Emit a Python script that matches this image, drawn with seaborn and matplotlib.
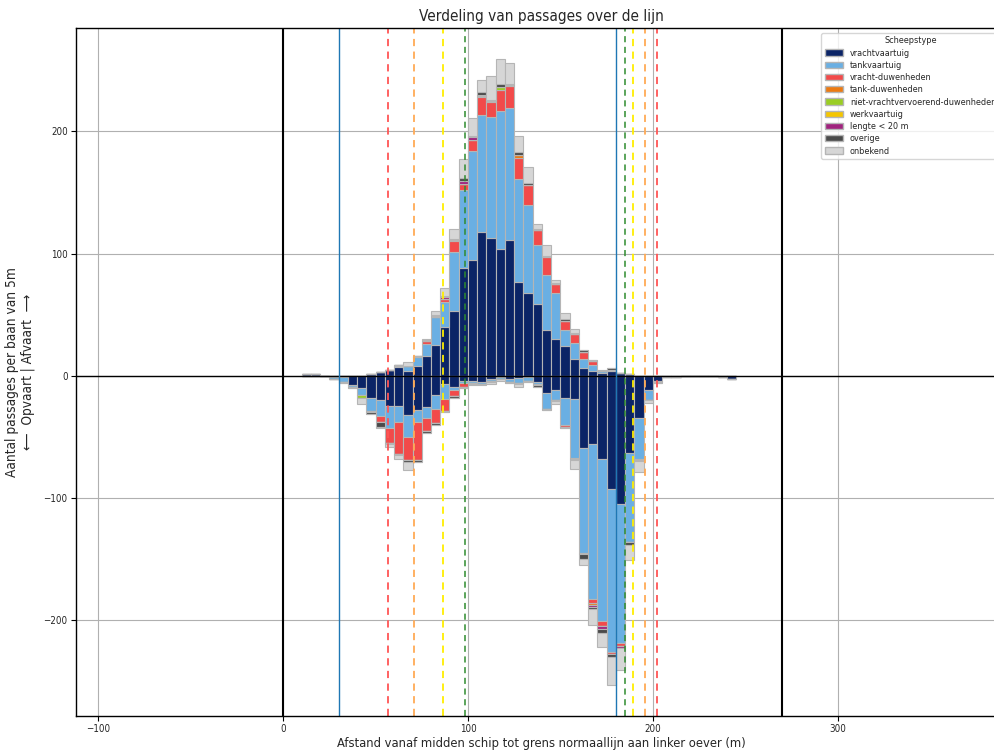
import matplotlib
matplotlib.use("Agg")
import matplotlib.pyplot as plt
from matplotlib.patches import Patch
import numpy as np
import pandas as pd
import seaborn as sns

# bin centres (5 m lanes) and ship types
afstand = np.arange(12.5, 245, 5)
scheepstypes = ["vrachtvaartuig", "tankvaartuig", "vracht-duwenheden", "tank-duwenheden",
                "niet-vrachtvervoerend-duwenheden", "werkvaartuig", "lengte < 20 m",
                "overige", "onbekend"]
kleuren = ["#0b2466", "#6aafe3", "#f24a4a", "#ec7a12", "#9acd24",
           "#f5c600", "#a0237e", "#4a4a4a", "#d6d6d6"]

# afvaart (positive)
af_vracht = [1, 1, 0, 0, 0, 0, 0, 1, 3, 5, 7, 4, 8, 16, 25, 40, 53, 88, 95, 118,
             113, 104, 111, 77, 68, 59, 37, 30, 24, 14, 6, 4, 2, 4, 2, 1, 0, 0, 0, 0,
             0, 0, 0, 0, 0, 0, 0]
af_tank = [0, 0, 0, 0, 0, 0, 0, 0, 0, 0, 1, 4, 7, 10, 23, 20, 48, 64, 89, 95,
           99, 113, 108, 84, 72, 48, 45, 38, 13, 13, 8, 5, 2, 0, 0, 0, 0, 0, 0, 0,
           0, 0, 0, 0, 0, 0, 0]
af_vduw = [0, 0, 0, 0, 0, 0, 0, 0, 0, 0, 1, 0, 0, 2, 0, 3, 9, 5, 9, 15,
           12, 17, 18, 17, 16, 12, 15, 7, 8, 7, 5, 3, 0, 1, 0, 0, 0, 0, 0, 0,
           0, 0, 0, 0, 0, 0, 0]
af_tduw = [0, 0, 0, 0, 0, 0, 0, 0, 0, 0, 0, 0, 1, 0, 0, 0, 1, 0, 0, 1,
           1, 0, 0, 3, 0, 0, 0, 0, 0, 0, 0, 0, 0, 0, 0, 0, 0, 0, 0, 0,
           0, 0, 0, 0, 0, 0, 0]
af_nvd = [0, 0, 0, 0, 0, 0, 0, 0, 0, 0, 0, 0, 0, 0, 0, 0, 0, 0, 0, 0,
          0, 2, 1, 0, 0, 0, 1, 0, 0, 0, 0, 0, 0, 0, 0, 0, 0, 0, 0, 0,
          0, 0, 0, 0, 0, 0, 0]
af_werk = [0, 0, 0, 0, 0, 0, 0, 0, 0, 0, 0, 0, 0, 0, 0, 0, 0, 0, 0, 1,
           0, 0, 0, 0, 0, 0, 0, 0, 0, 0, 0, 0, 0, 0, 0, 0, 0, 0, 0, 0,
           0, 0, 0, 0, 0, 0, 0]
af_lengte = [0, 0, 0, 0, 0, 0, 0, 0, 0, 0, 0, 0, 0, 0, 1, 1, 0, 2, 2, 0,
             0, 0, 0, 0, 0, 0, 0, 0, 0, 0, 0, 0, 0, 0, 0, 0, 0, 0, 0, 0,
             0, 0, 0, 0, 0, 0, 0]
af_overige = [0, 0, 0, 0, 0, 0, 0, 0, 0, 0, 0, 0, 0, 1, 1, 1, 1, 3, 1, 2,
              1, 3, 1, 2, 2, 1, 0, 1, 1, 1, 2, 1, 0, 1, 0, 0, 0, 0, 0, 0,
              0, 0, 0, 0, 0, 0, 0]
af_onbekend = [0, 0, 0, 0, 0, 0, 0, 0, 0, 0, 0, 3, 0, 1, 3, 7, 8, 15, 15, 10,
               19, 20, 17, 13, 13, 4, 9, 2, 5, 3, 0, 0, 1, 0, 0, 0, 0, 0, 0, 0,
               0, 0, 0, 0, 0, 0, 0]

# opvaart (drawn downwards)
op_vracht = [0, 0, 0, 1, 1, 8, 10, 18, 20, 25, 25, 32, 28, 26, 16, 7, 9, 4, 4, 5,
             3, 1, 3, 2, 1, 5, 14, 12, 18, 19, 59, 56, 68, 93, 105, 63, 35, 12, 4, 1,
             1, 0, 0, 0, 0, 1, 3]
op_tank = [0, 0, 0, 2, 4, 1, 6, 11, 13, 18, 13, 18, 10, 9, 11, 12, 3, 2, 2, 2,
           1, 2, 2, 4, 3, 2, 13, 8, 22, 48, 86, 127, 133, 133, 114, 73, 33, 8, 0, 0,
           0, 0, 0, 0, 0, 0, 0]
op_vduw = [0, 0, 0, 0, 0, 0, 0, 0, 5, 12, 26, 19, 31, 10, 12, 10, 5, 3, 0, 0,
           0, 0, 0, 0, 0, 1, 0, 0, 2, 1, 1, 3, 4, 2, 2, 0, 1, 0, 1, 0,
           0, 0, 0, 0, 0, 0, 0]
op_tduw = [0, 0, 0, 0, 0, 0, 0, 1, 0, 0, 0, 0, 0, 0, 0, 0, 0, 0, 0, 0,
           0, 0, 0, 0, 0, 0, 0, 0, 0, 0, 0, 2, 0, 0, 0, 0, 0, 0, 0, 0,
           0, 0, 0, 0, 0, 0, 0]
op_nvd = [0, 0, 0, 0, 0, 0, 2, 0, 0, 0, 0, 0, 0, 0, 0, 0, 0, 0, 0, 0,
          0, 0, 0, 0, 0, 0, 0, 0, 0, 0, 0, 0, 0, 0, 0, 0, 0, 0, 0, 0,
          0, 0, 0, 0, 0, 0, 0]
op_werk = [0, 0, 0, 0, 0, 0, 0, 0, 0, 0, 0, 0, 0, 0, 0, 0, 0, 0, 0, 0,
           0, 0, 0, 0, 0, 0, 0, 0, 0, 0, 0, 0, 0, 0, 0, 0, 0, 0, 0, 0,
           0, 0, 0, 0, 0, 0, 0]
op_lengte = [0, 0, 0, 0, 0, 0, 0, 0, 0, 0, 0, 0, 0, 0, 0, 0, 0, 0, 0, 0,
             0, 0, 0, 0, 0, 0, 0, 0, 0, 0, 0, 1, 2, 0, 2, 0, 0, 0, 0, 0,
             0, 0, 0, 0, 0, 0, 0]
op_overige = [0, 0, 0, 0, 1, 1, 0, 1, 4, 1, 1, 2, 2, 2, 1, 1, 1, 1, 1, 0,
              1, 0, 1, 1, 1, 1, 1, 1, 1, 1, 4, 2, 4, 2, 0, 3, 1, 0, 1, 0,
              0, 0, 0, 0, 0, 0, 0]
op_onbekend = [0, 0, 0, 0, 0, 0, 5, 0, 1, 2, 3, 6, 0, 0, 0, 0, 0, 0, 1, 1,
               2, 1, 0, 2, 0, 0, 0, 2, 0, 7, 5, 13, 11, 23, 18, 12, 9, 2, 0, 0,
               0, 0, 0, 0, 0, 0, 0]

afvaart = [af_vracht, af_tank, af_vduw, af_tduw, af_nvd, af_werk, af_lengte, af_overige, af_onbekend]
opvaart = [op_vracht, op_tank, op_vduw, op_tduw, op_nvd, op_werk, op_lengte, op_overige, op_onbekend]

# reference lines (distance in m)
lijnen = [(0, "black", "-", 1.5), (270, "black", "-", 1.5),
          (30, "#1f77b4", "-", 1.0), (180, "#1f77b4", "-", 1.0),
          (56.5, "#ff5555", "--", 1.3), (202.5, "#ff5555", "--", 1.3),
          (71, "#ffaa55", "--", 1.3), (195.5, "#ffaa55", "--", 1.3),
          (86.5, "#ffee00", "--", 1.3), (189, "#ffee00", "--", 1.3),
          (98.5, "#2e8b2e", "--", 1.1), (185, "#2e8b2e", "--", 1.1)]


def to_long(series, sign):
    df = pd.DataFrame(dict(zip(scheepstypes, series)), index=afstand)
    df.index.name = "afstand"
    df = df.reset_index().melt(id_vars="afstand", var_name="type", value_name="aantal")
    df["aantal"] = sign * df["aantal"]
    return df


sns.set_style("ticks")
plt.rcParams["font.family"] = ["DejaVu Sans"]
plt.rcParams["font.stretch"] = "condensed"

fig = plt.figure(figsize=(9.94, 7.53), dpi=100)
ax = fig.add_axes([76 / 994, 37 / 753, 930 / 994, 688 / 753])

palette = dict(zip(scheepstypes, kleuren))
# seaborn stacks the first hue level on top, so reverse the order
for df in (to_long(afvaart, 1), to_long(opvaart, -1)):
    sns.histplot(data=df, x="afstand", weights="aantal", hue="type",
                 hue_order=scheepstypes[::-1], palette=palette, multiple="stack",
                 binwidth=5, binrange=(10, 245), alpha=1, edgecolor="#b5b5b5",
                 linewidth=0.8, legend=False, ax=ax)

ax.axhline(0, color="black", lw=1)
for x, c, ls, lw in lijnen:
    ax.axvline(x, color=c, ls=ls, lw=lw, dashes=(4, 3) if ls == "--" else (None, None))

ax.set_xlim(-112, 391)
ax.set_xticks([-100, 0, 100, 200, 300])
ax.set_yticks([-200, -100, 0, 100, 200])
ax.grid(True, color="#b0b0b0", lw=0.8)
ax.set_axisbelow(True)
for s in ax.spines.values():
    s.set_color("black")
    s.set_linewidth(1)
ax.tick_params(labelsize=7, length=3.5, color="black", pad=2.5)

ax.set_title("Verdeling van passages over de lijn", fontsize=11, pad=5)
ax.set_xlabel("Afstand vanaf midden schip tot grens normaallijn aan linker oever (m)",
              fontsize=9.3, labelpad=2)
ax.set_ylabel("Aantal passages per baan van 5m\n\u27f5  Opvaart | Afvaart  \u27f6",
              fontsize=9.8, labelpad=6)

handles = [Patch(facecolor=c, edgecolor="#b5b5b5", label=t) for t, c in zip(scheepstypes, kleuren)]
ax.legend(handles=handles, title="Scheepstype", loc="upper left", bbox_to_anchor=(0.801, 0.993),
          borderaxespad=0, fontsize=6.5, title_fontsize=6.5, labelspacing=0.36, frameon=True)

fig.savefig("out.png", dpi=100)
